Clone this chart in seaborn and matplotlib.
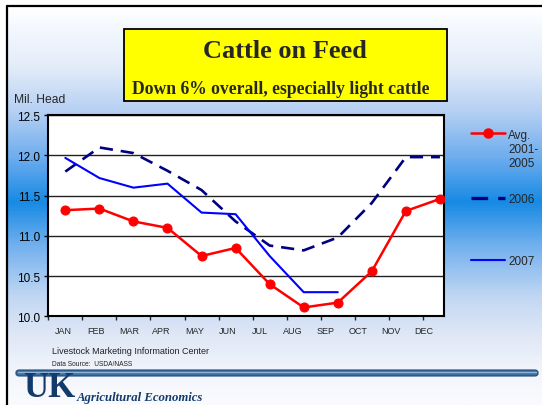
import numpy as np
import matplotlib
matplotlib.use("Agg")
import matplotlib.pyplot as plt
import seaborn as sns
from matplotlib.lines import Line2D
from matplotlib.patches import Rectangle, FancyBboxPatch
from matplotlib.colors import LinearSegmentedColormap
from matplotlib.offsetbox import HPacker

# data (million head on feed)
months = ["JAN", "FEB", "MAR", "APR", "MAY", "JUN",
          "JUL", "AUG", "SEP", "OCT", "NOV", "DEC"]
avg_2001_2005 = [11.32, 11.34, 11.18, 11.10, 10.75, 10.85,
                 10.40, 10.11, 10.17, 10.56, 11.31, 11.46]
cof_2006 = [11.80, 12.10, 12.03, 11.81, 11.57, 11.18,
            10.88, 10.82, 10.98, 11.41, 11.98, 11.98]
cof_2007 = [11.97, 11.72, 11.60, 11.65, 11.29, 11.27,
            10.75, 10.30, 10.30]
y_ticks = [10.0, 10.5, 11.0, 11.5, 12.0, 12.5]

W, H = 542, 406

sns.set_style("white")
plt.rcParams["font.family"] = ["Liberation Sans", "DejaVu Sans"]

fig = plt.figure(figsize=(W / 100, H / 100), dpi=100)
fig.patch.set_facecolor("white")


def fx(px):
    return px / W


def fy(py):
    return 1 - py / H


# gradient background (slide)
bg = fig.add_axes([fx(8), 0, 1 - fx(8), fy(8)], zorder=-5)
stops = [(0.0, "#ffffff"), (0.03, "#f8fbff"), (0.15, "#e2ecf9"),
         (0.26, "#b6d0f3"), (0.38, "#6cacee"), (0.49, "#168ae4"),
         (0.60, "#72b0ee"), (0.73, "#c2d7f3"), (0.83, "#e0e8f6"),
         (0.92, "#f2f5fb"), (1.0, "#fafbfe")]
cmap = LinearSegmentedColormap.from_list("slide", stops)
grad = np.linspace(0, 1, 400).reshape(-1, 1)
bg.imshow(grad, aspect="auto", cmap=cmap, extent=[0, 1, 0, 1], origin="upper")
bg.set_axis_off()

# slide border lines
fig.add_artist(Line2D([fx(7), fx(7)], [0, fy(7)], color="black", lw=1.6))
fig.add_artist(Line2D([fx(7), 1], [fy(7), fy(7)], color="black", lw=1.6))

# title box
fig.add_artist(Rectangle((fx(124), fy(102)), fx(447) - fx(124), fy(30) - fy(102),
                         facecolor="#ffff00", edgecolor="black", lw=1.3))
fig.text(fx(285), fy(52), "Cattle on Feed", ha="center", va="center",
         family="Liberation Serif", weight="bold", fontsize=19)
fig.text(fx(281), fy(89), "Down 6% overall, especially light cattle",
         ha="center", va="center", family="Liberation Serif",
         weight="bold", fontsize=12.7)

# main plot
ax = fig.add_axes([fx(48.3), fy(317.3), fx(444) - fx(48.3), fy(116.3) - fy(317.3)])
ax.set_facecolor("white")

x_all = np.arange(len(months))
sns.lineplot(x=x_all, y=avg_2001_2005, ax=ax, color="#ff0000", lw=1.8,
             marker="o", markersize=6.5, markeredgecolor="#ff0000", zorder=5)
sns.lineplot(x=x_all, y=cof_2006, ax=ax, color="#000080", lw=1.9,
             linestyle=(0, (5, 3)), zorder=4)
sns.lineplot(x=np.arange(len(cof_2007)), y=cof_2007, ax=ax, color="#0000ff",
             lw=1.5, zorder=4)

ax.set_xlim(-0.5, 11.12)
ax.set_ylim(10.0, 12.5)
ax.set_yticks(y_ticks)
ax.set_yticklabels([f"{v:.1f}" for v in y_ticks])
ax.yaxis.grid(True, color="#222222", lw=1.0)
ax.set_axisbelow(True)
ax.tick_params(axis="y", direction="out", length=3, width=1, pad=3,
               labelsize=8.5, left=True, colors="black")

# ticks between categories, labels under months
ax.set_xticks(np.arange(-0.5, 11, 1))
ax.set_xticklabels([])
ax.tick_params(axis="x", which="major", direction="out", length=3, width=1,
               bottom=True)
ax.set_xticks(-0.06 + np.arange(len(months)) * 0.963, minor=True)
ax.set_xticklabels(months, minor=True)
ax.tick_params(axis="x", which="minor", length=0, pad=7, labelsize=6.5)

for s in ax.spines.values():
    s.set_color("black")
    s.set_linewidth(1.5)
ax.set_xlabel("")
ax.set_ylabel("")

fig.text(fx(14), fy(100), "Mil. Head", ha="left", va="center", fontsize=8.7)

# legend, one entry per block on the right
h_avg = Line2D([], [], color="#ff0000", lw=1.8, marker="o", markersize=6.5)
h_06 = Line2D([], [], color="#000080", lw=2.4, linestyle=(0, (5, 3)))
h_07 = Line2D([], [], color="#0000ff", lw=1.5)
leg_kw = dict(frameon=False, fontsize=8.5, handlelength=2.9, handletextpad=0.25,
              borderpad=0, borderaxespad=0)
leg1 = fig.legend([h_avg], ["Avg.\n2001-\n2005"], loc="upper left",
                  bbox_to_anchor=(fx(471), fy(130)), **leg_kw)
for box in leg1.findobj(HPacker):
    box.align = "top"
fig.legend([h_06], ["2006"], loc="center left",
           bbox_to_anchor=(fx(471), fy(200)), **leg_kw)
fig.legend([h_07], ["2007"], loc="center left",
           bbox_to_anchor=(fx(471), fy(262)), **leg_kw)

# footer
fig.text(fx(52), fy(352), "Livestock Marketing Information Center",
         ha="left", va="center", fontsize=6.5, color="#222222")
fig.text(fx(52), fy(365), "Data Source:  USDA/NASS",
         ha="left", va="center", fontsize=4.8, color="#222222")
fig.add_artist(FancyBboxPatch((fx(16), fy(377)), fx(538) - fx(16), fy(371) - fy(377),
                              boxstyle="round,pad=0,rounding_size=0.006",
                              facecolor="#3f6f9f", edgecolor="#1e4a78", lw=0.8))
fig.add_artist(Line2D([fx(18), fx(536)], [fy(372.5), fy(372.5)],
                      color="#8fb3d6", lw=1.0))
fig.text(fx(23), fy(405), "UK", ha="left", va="bottom",
         family="Liberation Serif", weight="bold", fontsize=25, color="#123a6b")
fig.text(fx(77), fy(401), "Agricultural Economics", ha="left", va="baseline",
         family="Liberation Serif", weight="bold", style="italic",
         fontsize=9.2, color="#123a6b")

fig.savefig("out.png", dpi=100)
